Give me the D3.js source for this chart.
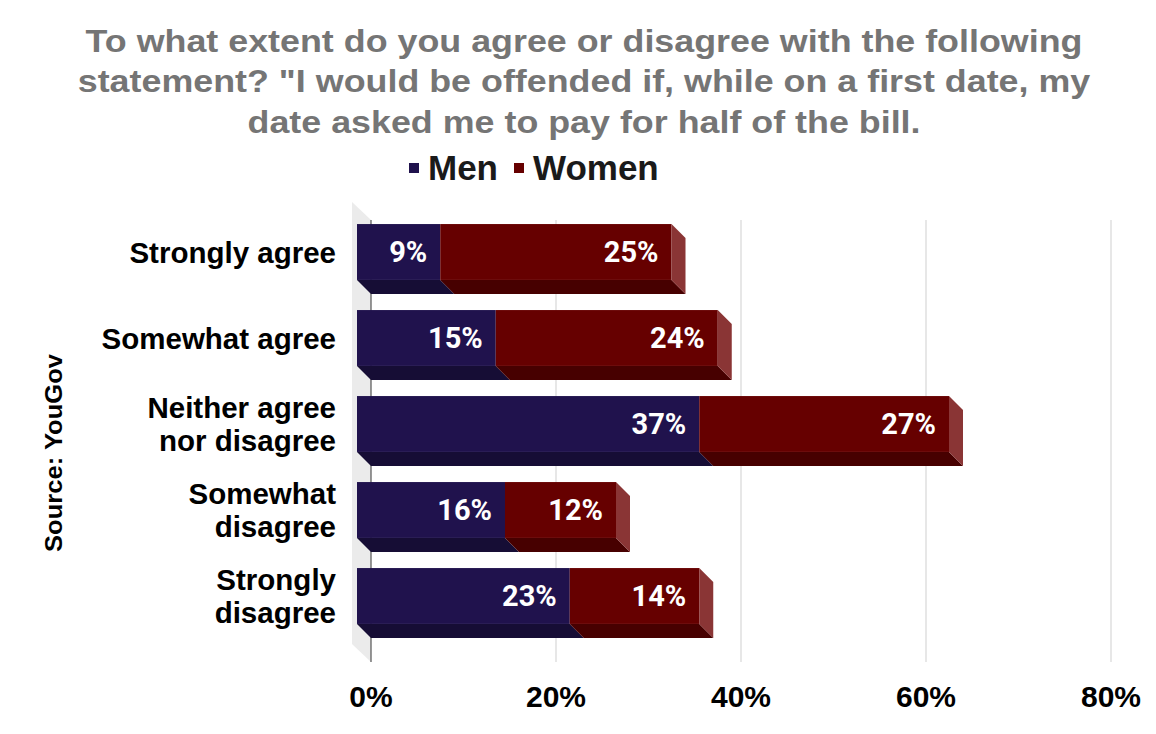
<!DOCTYPE html>
<html><head><meta charset="utf-8">
<script src="https://cdn.jsdelivr.net/npm/d3@7"></script>
<style>body{margin:0;background:#fff}svg{display:block}</style>
</head><body><svg id="c" width="1156" height="734"></svg>
<script>
const categories = [["Strongly agree"],["Somewhat agree"],["Neither agree","nor disagree"],["Somewhat","disagree"],["Strongly","disagree"]];
const seriesNames = ["Men","Women"];
const men = [9,15,37,16,23];
const women = [25,24,27,12,14];
const ticks = [0,20,40,60,80];
const titleLines = ["To what extent do you agree or disagree with the following","statement? \"I would be offended if, while on a first date, my","date asked me to pay for half of the bill."];
const source = "Source: YouGov";

const svg = d3.select("#c");
const front = 357, back = 371, D = 14;
const x = d3.scaleLinear().domain([0,80]).range([0,740]);
const keys = categories.map(c=>c.join(" "));
const y = d3.scaleBand().domain(keys).range([209,639]).paddingInner(0.35).paddingOuter(0.175);
const FONT = "Liberation Sans, Arial, sans-serif";

// title
svg.append("g").attr("transform","translate(584,0) scale(1.12,1)")
  .selectAll("text").data(titleLines).join("text")
  .attr("x",0).attr("y",(d,i)=>52+i*40.5).attr("text-anchor","middle")
  .attr("font-family",FONT).attr("font-weight","bold")
  .attr("font-size",32).attr("fill","#757575").text(d=>d);

// legend
const legCol = ["#20124d","#660000"];
const leg = [{t:"Men",x:409},{t:"Women",x:514}];
leg.forEach((l,i)=>{
  svg.append("rect").attr("x",l.x).attr("y",163).attr("width",10).attr("height",10).attr("fill",legCol[i]);
  svg.append("text").attr("x",l.x+19).attr("y",180).attr("font-family",FONT)
    .attr("font-weight","bold").attr("font-size",35).attr("fill","#1a1a1a").text(seriesNames[i]);
});

// wall
const wallTop = 202, wallBot = 648;
svg.append("path").attr("d",`M${352},${wallTop} L${back},${wallTop+18} L${back},${wallBot+14} L${352},${wallBot-4} Z`).attr("fill","#ebebeb");

// gridlines
svg.append("g").selectAll("line").data(ticks).join("line")
  .attr("x1",d=>back+x(d)).attr("x2",d=>back+x(d)).attr("y1",220).attr("y2",662)
  .attr("stroke",d=>d===0?"#333":"#cfcfcf").attr("stroke-width",1);

// tick labels
svg.append("g").selectAll("text").data(ticks).join("text")
  .attr("x",d=>back+x(d)).attr("y",707).attr("text-anchor","middle")
  .attr("font-family",FONT).attr("font-weight","bold").attr("font-size",30)
  .attr("fill","#000").text(d=>d+"%");

// bars
const colors = {
  men:{f:"#20124d",b:"#160d35"},
  women:{f:"#660000",b:"#470000",s:"#8a3535"}
};
const bh = y.bandwidth();
keys.forEach((k,i)=>{
  const yt = y(k), yb = yt+bh;
  const segs = [{v0:0,v1:men[i],c:colors.men},{v0:men[i],v1:men[i]+women[i],c:colors.women}];
  const g = svg.append("g");
  segs.forEach(s=>{
    const x0 = front+x(s.v0), x1 = front+x(s.v1);
    g.append("path").attr("d",`M${x0},${yb} L${x1},${yb} L${x1+D},${yb+D} L${x0+D},${yb+D} Z`).attr("fill",s.c.b);
  });
  segs.forEach(s=>{
    const x0 = front+x(s.v0), x1 = front+x(s.v1);
    g.append("rect").attr("x",x0).attr("y",yt).attr("width",x1-x0).attr("height",bh).attr("fill",s.c.f);
  });
  const s = segs[1], xe = front+x(s.v1);
  g.append("path").attr("d",`M${xe},${yt} L${xe+D},${yt+D} L${xe+D},${yb+D} L${xe},${yb} Z`).attr("fill",s.c.s);
  segs.forEach((s,j)=>{
    const x1 = front+x(s.v1);
    g.append("text").attr("x",x1-13).attr("y",yt+bh/2+10).attr("text-anchor","end")
      .attr("font-family","Roboto, sans-serif").attr("font-weight","bold").attr("font-size",29)
      .attr("fill","#fff").text((j===0?men[i]:women[i])+"%");
  });
  // category label
  const lines = categories[i];
  const t = svg.append("text").attr("text-anchor","end")
    .attr("font-family",FONT).attr("font-weight","bold").attr("font-size",29.5).attr("fill","#000");
  lines.forEach((ln,j)=>{
    t.append("tspan").attr("x",336).attr("y",yt+bh/2+10.5+(j-(lines.length-1)/2)*33).text(ln);
  });
});

// source
svg.append("text").attr("transform","translate(62,453) rotate(-90)").attr("text-anchor","middle")
  .attr("font-family",FONT).attr("font-weight","bold").attr("font-size",24)
  .attr("textLength",198).attr("lengthAdjust","spacingAndGlyphs")
  .attr("fill","#000").text(source);
</script></body></html>
